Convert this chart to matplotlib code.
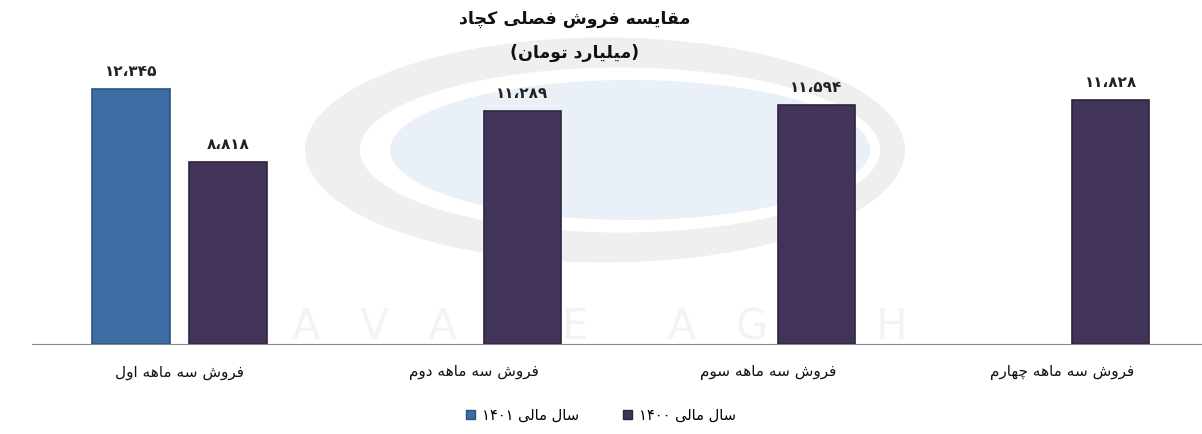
import re
import numpy as np
import matplotlib
matplotlib.use('Agg')
import matplotlib.pyplot as plt
from matplotlib.patches import Ellipse

# data
categories = ['فروش سه ماهه اول', 'فروش سه ماهه دوم', 'فروش سه ماهه سوم', 'فروش سه ماهه چهارم']
sales_1401 = [12345, None, None, None]
sales_1400 = [8818, 11289, 11594, 11828]
series_names = ['سال مالی ۱۴۰۱', 'سال مالی ۱۴۰۰']
title = 'مقایسه فروش فصلی کچاد'
subtitle = '(میلیارد تومان)'

# matplotlib has no arabic shaping, so do a tiny one by hand
FORMS = {
    '\u0627': ('\uFE8D', '\uFE8E', None, None),
    '\u062A': ('\uFE95', '\uFE96', '\uFE97', '\uFE98'),
    '\u0686': ('\uFB7A', '\uFB7B', '\uFB7C', '\uFB7D'),
    '\u062F': ('\uFEA9', '\uFEAA', None, None),
    '\u0631': ('\uFEAD', '\uFEAE', None, None),
    '\u0633': ('\uFEB1', '\uFEB2', '\uFEB3', '\uFEB4'),
    '\u0634': ('\uFEB5', '\uFEB6', '\uFEB7', '\uFEB8'),
    '\u0635': ('\uFEB9', '\uFEBA', '\uFEBB', '\uFEBC'),
    '\u0641': ('\uFED1', '\uFED2', '\uFED3', '\uFED4'),
    '\u0642': ('\uFED5', '\uFED6', '\uFED7', '\uFED8'),
    '\u06A9': ('\uFB8E', '\uFB8F', '\uFB90', '\uFB91'),
    '\u0644': ('\uFEDD', '\uFEDE', '\uFEDF', '\uFEE0'),
    '\u0645': ('\uFEE1', '\uFEE2', '\uFEE3', '\uFEE4'),
    '\u0646': ('\uFEE5', '\uFEE6', '\uFEE7', '\uFEE8'),
    '\u0647': ('\uFEE9', '\uFEEA', '\uFEEB', '\uFEEC'),
    '\u0648': ('\uFEED', '\uFEEE', None, None),
    '\u06CC': ('\uFBFC', '\uFBFD', '\uFBFE', '\uFBFF'),
}
MIRROR = {'(': ')', ')': '('}
FA_DIGITS = str.maketrans('0123456789,', '۰۱۲۳۴۵۶۷۸۹،')


def fa(s):
    s = s.replace('\u064A', '\u06CC').replace('\u0643', '\u06A9')
    out = []
    for i, c in enumerate(s):
        if c not in FORMS:
            out.append(c)
            continue
        iso, fin, ini, med = FORMS[c]
        prev = s[i - 1] if i > 0 else ''
        nxt = s[i + 1] if i + 1 < len(s) else ''
        jp = prev in FORMS and FORMS[prev][2] is not None
        jn = ini is not None and nxt in FORMS
        out.append(med if jp and jn else fin if jp else ini if jn else iso)
    shaped = ''.join(out)
    # reverse for display, keep digit runs left to right
    toks = [t for t in re.split(r'([۰-۹0-9][۰-۹0-9،]*)', shaped) if t]
    vis = []
    for t in reversed(toks):
        if re.match(r'[۰-۹0-9]', t):
            vis.append(t)
        else:
            vis.append(''.join(MIRROR.get(c, c) for c in reversed(t)))
    return ''.join(vis)


plt.rcParams['font.family'] = ['DejaVu Sans']

fig = plt.figure(figsize=(12.02, 4.34), dpi=100)

# faint watermark behind the chart
wm = fig.add_axes([0, 0, 1, 1], zorder=0)
wm.set_xlim(0, 1202)
wm.set_ylim(434, 0)
wm.axis('off')
wm.add_patch(Ellipse((605, 150), 600, 225, facecolor='#EFEFEF', edgecolor='none'))
wm.add_patch(Ellipse((620, 150), 520, 165, facecolor='white', edgecolor='none'))
wm.add_patch(Ellipse((630, 150), 480, 140, facecolor='#E9F0F7', edgecolor='none'))
wm.text(600, 327, 'A   V   A   Y   E      A   G   A   H', ha='center', va='center',
        fontsize=30, color='#F3F3F3')

ax = fig.add_axes([0.0266, 0.2074, 0.9734, 0.666], zorder=1)
ax.patch.set_alpha(0)

x = np.arange(len(categories))
w = 0.263
off = 0.165
blue = '#3D6BA3'
purple = '#423358'

for i in range(len(categories)):
    v = sales_1401[i]
    if v is not None:
        ax.bar(x[i] - off, v, w, color=blue, edgecolor='#2E527E', linewidth=1.2)
        ax.text(x[i] - off, v + 850, f'{v:,}'.translate(FA_DIGITS), ha='center',
                va='center', fontsize=11, fontweight='bold', color='#222222')
    v = sales_1400[i]
    ax.bar(x[i] + off, v, w, color=purple, edgecolor='#2F2440', linewidth=1.2)
    ax.text(x[i] + off, v + 850, f'{v:,}'.translate(FA_DIGITS), ha='center',
            va='center', fontsize=11, fontweight='bold', color='#222222')

ax.set_xlim(-0.501, 3.475)
ax.set_ylim(0, 14000)
for s in ['top', 'right', 'left']:
    ax.spines[s].set_visible(False)
ax.spines['bottom'].set_color('#888888')
ax.set_yticks([])
ax.set_xticks(x)
ax.set_xticklabels([fa(c) for c in categories], fontsize=11, color='#111111')
ax.tick_params(axis='x', length=0, pad=15)

fig.text(0.478, 0.956, fa(title), ha='center', va='center', fontsize=12.5,
         fontweight='bold', color='#111111')
fig.text(0.478, 0.878, fa(subtitle), ha='center', va='center', fontsize=12.5,
         fontweight='bold', color='#111111')

h1 = plt.Rectangle((0, 0), 1, 1, facecolor=blue, edgecolor='#2E527E')
h2 = plt.Rectangle((0, 0), 1, 1, facecolor=purple, edgecolor='#2F2440')
fig.legend([h1, h2], [fa(n) for n in series_names], loc='center',
           bbox_to_anchor=(0.5, 0.044), ncol=2, frameon=False, fontsize=10.5,
           handlelength=0.6, handleheight=0.6, handletextpad=0.5, columnspacing=3.0)

fig.savefig('out.png', dpi=100)
